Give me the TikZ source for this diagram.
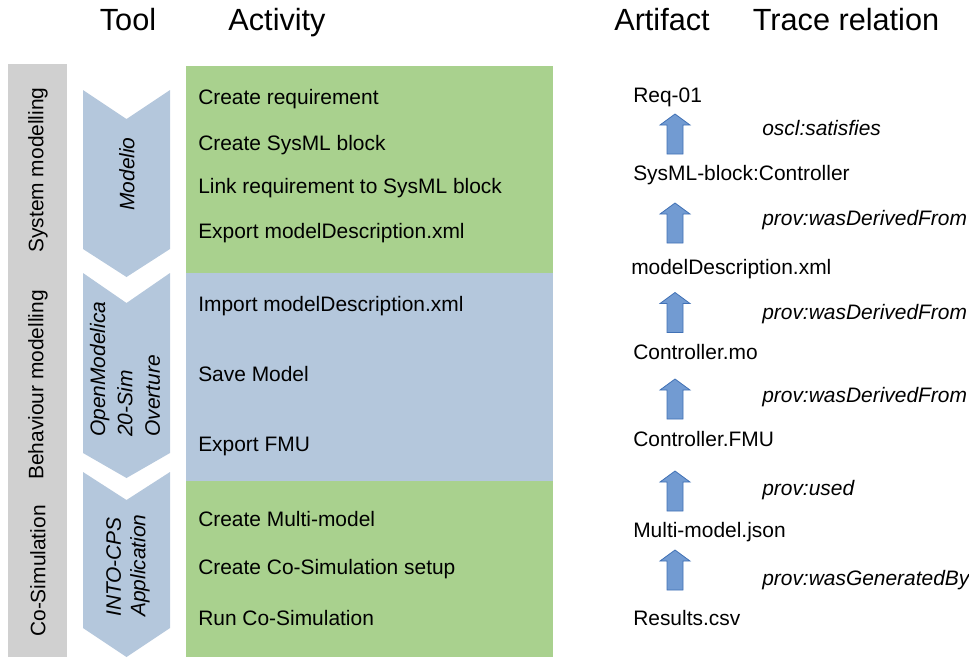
\documentclass[tikz,border=0pt]{standalone}
\usepackage{fontspec}
\setmainfont{Liberation Sans}
\usepackage{xcolor}
\usepackage{tikz}
\usetikzlibrary{positioning, calc}
\definecolor{phasegray}{RGB}{208, 208, 208}
\definecolor{actgreen}{RGB}{169, 209, 142}
\definecolor{actblue}{RGB}{180, 199, 220}
\definecolor{arrowfill}{RGB}{114, 155, 210}
\definecolor{arrowline}{RGB}{65, 113, 181}
\tikzstyle{header} = [anchor=base, font=\fontsize{23}{27}\selectfont, inner sep=0pt]
\tikzstyle{activity} = [anchor=base west, font=\fontsize{15.7}{19}\selectfont, inner sep=0pt]
\tikzstyle{artifact} = [anchor=base west, font=\fontsize{15.7}{19}\selectfont, inner sep=0pt]
\tikzstyle{relation} = [anchor=base west, font=\fontsize{15.7}{19}\selectfont\itshape, inner sep=0pt]
\tikzstyle{phase} = [rotate=90, font=\fontsize{15.7}{19}\selectfont, inner sep=0pt]
\tikzstyle{tool} = [rotate=90, align=left, font=\fontsize{15.7}{18.5}\selectfont\itshape, inner sep=0pt]
\tikzset{traceup/.pic={
    \draw[arrowline, fill=arrowfill, line width=0.6pt]
      (0,-20) -- (15,-9) -- (8,-9) -- (8,20) -- (-8,20) -- (-8,-9) -- (-15,-9) -- cycle;
}}

\begin{document}
\begin{tikzpicture}[x=0.75pt, y=-0.75pt]
    \useasboundingbox (0,0) rectangle (969,657);

    % Column headers
    \node[header] (hTool) at (128,30) {Tool};
    \node[header] (hAct) at (277,30) {Activity};
    \node[header] (hArt) at (662,30) {Artifact};
    \node[header] (hRel) at (846,30) {Trace relation};

    % Phases
    \fill[phasegray] (8,64) rectangle (67,657);
    \node[phase] (pSys) at (38,170) {System modelling};
    \node[phase] (pBeh) at (38,385) {Behaviour modelling};
    \node[phase] (pCo) at (38,571) {Co-Simulation};

    % Tool chevrons
    \fill[actblue] (83,90) -- (126.5,119) -- (170,90) -- (170,249) -- (126.5,277) -- (83,249) -- cycle;
    \fill[actblue] (83,273) -- (126.5,303) -- (170,273) -- (170,453) -- (126.5,478) -- (83,453) -- cycle;
    \fill[actblue] (83,472) -- (126.5,500) -- (170,472) -- (170,628) -- (126.5,657) -- (83,628) -- cycle;
    \node[tool] (tModelio) at (127,174) {Modelio};
    \node[tool, anchor=west, font=\fontsize{15.7}{20.5}\selectfont\itshape] (tOpen) at (125,437) {OpenModelica\\20-Sim\\Overture};
    \node[tool, anchor=west] (tInto) at (128,617) {INTO-CPS\\Application};

    % Activity boxes
    \fill[actgreen] (186,66) rectangle (553,273);
    \fill[actblue] (186,273) rectangle (553,481);
    \fill[actgreen] (186,481) rectangle (553,657);

    % Activities
    \node[activity] (a1) at (198,104) {Create requirement};
    \node[activity] (a2) at (198,150) {Create SysML block};
    \node[activity] (a3) at (198,193) {Link requirement to SysML block};
    \node[activity] (a4) at (198,238) {Export modelDescription.xml};
    \node[activity] (a5) at (198,311) {Import modelDescription.xml};
    \node[activity] (a6) at (198,381) {Save Model};
    \node[activity] (a7) at (198,451) {Export FMU};
    \node[activity] (a8) at (198,526) {Create Multi-model};
    \node[activity] (a9) at (198,574) {Create Co-Simulation setup};
    \node[activity] (a10) at (198,625) {Run Co-Simulation};

    % Artifacts
    \node[artifact] (req) at (633,102) {Req-01};
    \node[artifact] (sysml) at (633,180) {SysML-block:Controller};
    \node[artifact] (mdesc) at (631,274) {modelDescription.xml};
    \node[artifact] (ctrlmo) at (633,359) {Controller.mo};
    \node[artifact] (ctrlfmu) at (633,446) {Controller.FMU};
    \node[artifact] (mmjson) at (633,537) {Multi-model.json};
    \node[artifact] (results) at (633,625) {Results.csv};

    % Trace arrows
    \pic (r1) at (675,134) {traceup};
    \pic (r2) at (675,223) {traceup};
    \pic (r3) at (675,312.5) {traceup};
    \pic (r4) at (675,399) {traceup};
    \pic (r5) at (675,491) {traceup};
    \pic (r6) at (675,570) {traceup};

    % Trace relations
    \node[relation] (t1) at (762,135) {oscl:satisfies};
    \node[relation] (t2) at (762,225) {prov:wasDerivedFrom};
    \node[relation] (t3) at (762,319) {prov:wasDerivedFrom};
    \node[relation] (t4) at (762,402) {prov:wasDerivedFrom};
    \node[relation] (t5) at (762,495) {prov:used};
    \node[relation] (t6) at (762,585) {prov:wasGeneratedBy};
\end{tikzpicture}
\end{document}
